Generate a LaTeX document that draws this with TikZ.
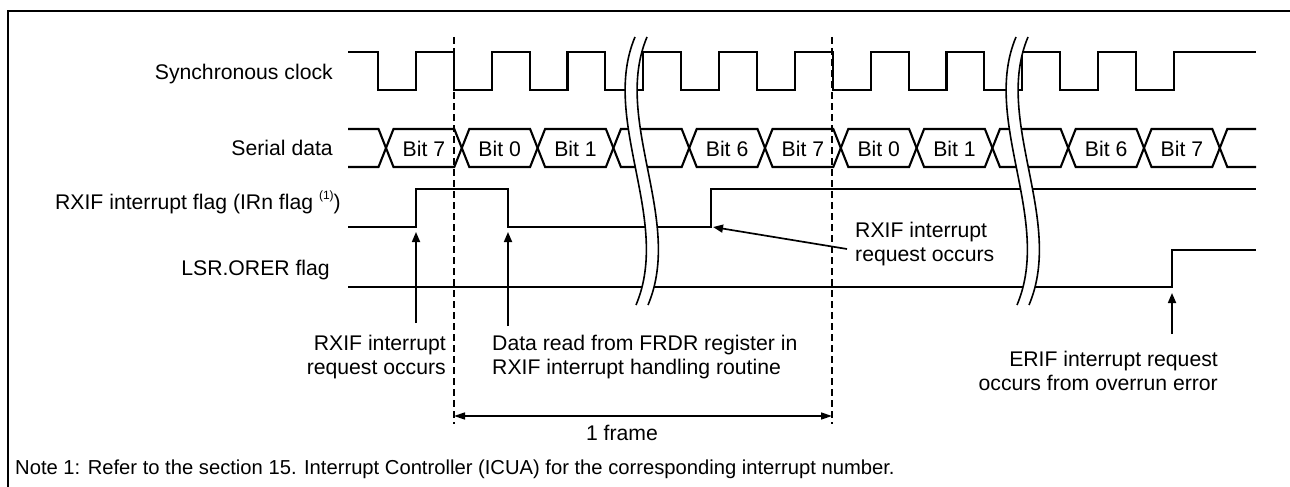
\documentclass[tikz,border=0pt]{standalone}
\usepackage{fontspec}
\setmainfont{Liberation Sans}
\usetikzlibrary{arrows.meta}
\begin{document}
\begin{tikzpicture}[x=1pt,y=-1pt,
  wave/.style={line width=2.1pt},
  lbl/.style={font=\fontsize{21.2}{25}\selectfont, inner sep=0pt},
  notelbl/.style={font=\fontsize{20.2}{24}\selectfont, inner sep=0pt},
  brk/.style={line width=1.6pt},
  frameline/.style={line width=2.5pt, dash pattern=on 7pt off 4pt},
  ptr/.style={line width=1.7pt, -{Triangle[length=10pt,width=8pt]}},
  dimarrow/.style={line width=1.6pt, {Triangle[length=11pt,width=7pt]}-{Triangle[length=11pt,width=7pt]}},
]
\useasboundingbox (0,0) rectangle (1290,487);
\draw[line width=2.8pt] (8,11) rectangle (1320,520);

% signal labels
\node[lbl, anchor=base east] (lclk) at (333,80) {Synchronous clock};
\node[lbl, anchor=base east] (ldat) at (333,155) {Serial data};
\node[lbl, anchor=base east] (lrx) at (341,209) {RXIF interrupt flag (IRn flag \raisebox{10pt}{\fontsize{12}{12}\selectfont(1)})};
\node[lbl, anchor=base east] (llsr) at (330,275) {LSR.ORER flag};

% synchronous clock
\draw[wave] (348,52) \foreach \k in {0,...,10} { -- ({378+75.8*\k},52) -- ({378+75.8*\k},90) -- ({415.9+75.8*\k},90) -- ({415.9+75.8*\k},52) } -- (1256,52);

% serial data
\draw[wave] (348,129) \foreach \j in {0,...,11} { -- ({386+75.8*\j-7.5},{148-19*cos(180*\j)}) -- ({386+75.8*\j+7.5},{148+19*cos(180*\j)}) } -- (1256,129);
\draw[wave] (348,167) \foreach \j in {0,...,11} { -- ({386+75.8*\j-7.5},{148+19*cos(180*\j)}) -- ({386+75.8*\j+7.5},{148-19*cos(180*\j)}) } -- (1256,167);
\foreach \j/\t in {0/Bit 7,1/Bit 0,2/Bit 1,4/Bit 6,5/Bit 7,6/Bit 0,7/Bit 1,9/Bit 6,10/Bit 7}
  \node[lbl, anchor=base] (bit\j) at ({423.9+75.8*\j},156) {\t};

% RXIF flag
\coordinate (rxup) at (416,227);
\coordinate (rxdown) at (508,227);
\coordinate (rxup2) at (711,227);
\draw[wave] (348,227) -- (rxup) -- (416,189) -- (508,189) -- (rxdown) -- (rxup2) -- (711,189) -- (1256,189);

% LSR.ORER flag
\coordinate (orerup) at (1172,287);
\draw[wave] (348,287) -- (orerup) -- (1172,250) -- (1256,250);

% breaks
\foreach \s in {0,381} {
  \begin{scope}[shift={(\s,0)}]
    \fill[white] (635,37) .. controls (600,120) and (672,220) .. (636,305) -- (648,305) .. controls (684,220) and (612,120) .. (647,37) -- cycle;
    \draw[brk] (635,37) .. controls (600,120) and (672,220) .. (636,305);
    \draw[brk] (647,37) .. controls (612,120) and (684,220) .. (648,305);
  \end{scope}
}

% frame boundaries
\coordinate (fs) at (454,416);
\coordinate (fe) at (832,416);
\draw[frameline] (454,37) -- (454,424);
\draw[frameline] (832,37) -- (832,424);
\draw[dimarrow] (fs) -- (fe);
\node[lbl, anchor=base] (frame) at (622,440) {1 frame};

% annotations
\node[lbl, anchor=base east] (t1a) at (446,350) {RXIF interrupt};
\node[lbl, anchor=base east] (t1b) at (446,374) {request occurs};
\node[lbl, anchor=base west] (t2a) at (492,350) {Data read from FRDR register in};
\node[lbl, anchor=base west] (t2b) at (492,374) {RXIF interrupt handling routine};
\node[lbl, anchor=base west] (t3a) at (855,237) {RXIF interrupt};
\node[lbl, anchor=base west] (t3b) at (855,261) {request occurs};
\node[lbl, anchor=base east] (t4a) at (1218,366) {ERIF interrupt request};
\node[lbl, anchor=base east] (t4b) at (1218,390) {occurs from overrun error};

\coordinate (p1) at (416,323);
\coordinate (p2) at (508,326);
\coordinate (p3) at (847,249);
\coordinate (p4) at (1172,334);
\draw[ptr] (p1) -- ([yshift=-5pt]rxup);
\draw[ptr] (p2) -- ([yshift=-5pt]rxdown);
\draw[ptr] (p3) -- ([xshift=2pt]rxup2);
\draw[ptr] (p4) -- ([yshift=-6pt]orerup);

\node[notelbl, anchor=base west] (note) at (15,474) {Note 1: Refer to the section 15. Interrupt Controller (ICUA) for the corresponding interrupt number.};
\end{tikzpicture}
\end{document}
